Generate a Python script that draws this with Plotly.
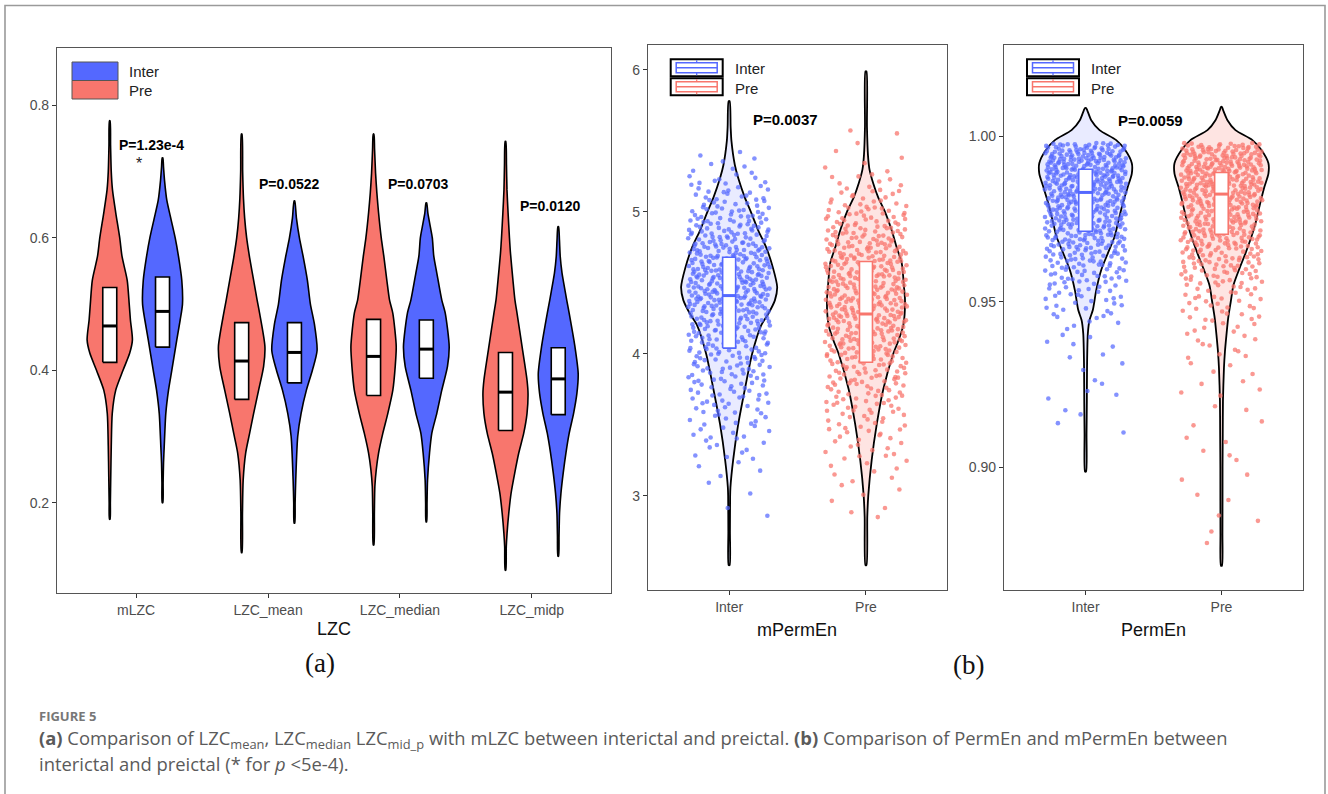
import numpy as np
import plotly.graph_objects as go

# ===================== DATA =====================
lzc_categories = ["mLZC", "LZC_mean", "LZC_median", "LZC_midp"]
perm_categories = ["Inter", "Pre"]

# Panel (a) box statistics per LZC category
lzc_pre_q1 = [0.412, 0.356, 0.362, 0.309]
lzc_pre_med = [0.467, 0.414, 0.421, 0.367]
lzc_pre_q3 = [0.525, 0.472, 0.477, 0.427]
lzc_inter_q1 = [0.435, 0.381, 0.388, 0.333]
lzc_inter_med = [0.489, 0.427, 0.432, 0.387]
lzc_inter_q3 = [0.541, 0.472, 0.476, 0.434]

# Panel (a) violin density profiles: value levels and density (half-width)
mlzc_pre_y = [0.175, 0.2, 0.24, 0.285, 0.335, 0.37, 0.4, 0.426, 0.446, 0.476, 0.5, 0.536, 0.572, 0.6, 0.638, 0.673, 0.7, 0.74, 0.777]
mlzc_pre_d = [0.3, 0.6, 1.0, 1.5, 2.5, 6, 13.3, 20, 22.7, 20.7, 19.5, 17.5, 12.3, 10, 6, 2.7, 1.5, 0.8, 0.3]
mlzc_inter_y = [0.2, 0.23, 0.26, 0.285, 0.335, 0.37, 0.4, 0.446, 0.476, 0.5, 0.536, 0.572, 0.6, 0.627, 0.657, 0.687, 0.707, 0.721]
mlzc_inter_d = [0.3, 0.6, 1.0, 1.7, 3.3, 6, 9.3, 14.3, 17.7, 20, 19.3, 16, 12.7, 8.7, 4.3, 2, 1, 0.3]
lzcmean_pre_y = [0.1245, 0.184, 0.234, 0.275, 0.305, 0.335, 0.37, 0.406, 0.436, 0.486, 0.506, 0.536, 0.57, 0.6, 0.63, 0.66, 0.7, 0.757]
lzcmean_pre_d = [0.3, 0.8, 1.5, 4, 8, 12, 17, 22, 23.3, 18, 15.5, 12, 8, 5, 3, 1.8, 1, 0.3]
lzcmean_inter_y = [0.169, 0.2, 0.234, 0.3, 0.335, 0.37, 0.4, 0.43, 0.47, 0.5, 0.536, 0.57, 0.6, 0.63, 0.656]
lzcmean_inter_d = [0.3, 0.7, 1.3, 3.3, 6.7, 12, 18, 22.7, 20, 16, 13, 9, 5, 2, 0.3]
lzcmed_pre_y = [0.136, 0.184, 0.225, 0.25, 0.275, 0.305, 0.335, 0.37, 0.406, 0.436, 0.486, 0.506, 0.536, 0.572, 0.6, 0.638, 0.668, 0.698, 0.734, 0.757]
lzcmed_pre_d = [0.3, 0.8, 1.3, 2.7, 5, 9.3, 14.3, 19.3, 21.7, 22.7, 19.3, 16, 13.3, 10.3, 7.7, 5, 3.3, 2, 1, 0.3]
lzcmed_inter_y = [0.171, 0.2, 0.234, 0.275, 0.305, 0.335, 0.37, 0.406, 0.436, 0.486, 0.506, 0.547, 0.572, 0.6, 0.617, 0.638, 0.653]
lzcmed_inter_d = [0.3, 0.7, 1.2, 3.2, 5.5, 10.5, 15.5, 21.2, 22.9, 19, 15.5, 10.5, 7.5, 6, 4, 1.5, 0.3]
lzcmid_pre_y = [0.098, 0.133, 0.154, 0.184, 0.214, 0.245, 0.275, 0.305, 0.335, 0.365, 0.385, 0.436, 0.486, 0.506, 0.536, 0.577, 0.6, 0.638, 0.673, 0.71, 0.746]
lzcmid_pre_d = [0.3, 0.8, 1.6, 3.3, 5.6, 9.3, 13.3, 18.3, 21.6, 22.6, 21.6, 16.6, 11.6, 9.5, 7.5, 5, 4, 2.6, 1.5, 1, 0.3]
lzcmid_inter_y = [0.119, 0.15, 0.184, 0.214, 0.245, 0.275, 0.305, 0.335, 0.365, 0.395, 0.436, 0.486, 0.506, 0.536, 0.547, 0.572, 0.597, 0.617]
lzcmid_inter_d = [0.3, 0.8, 1.3, 2.7, 5, 7.7, 11, 15.4, 18.7, 20, 16.7, 11, 8.5, 5, 3.8, 2, 1.2, 0.3]

# Panel (b) box statistics (Inter, Pre)
mperm_q1 = [4.04, 3.94]
mperm_med = [4.41, 4.28]
mperm_q3 = [4.68, 4.65]
permen_q1 = [0.9713, 0.9704]
permen_med = [0.983, 0.9825]
permen_q3 = [0.990, 0.989]

# Panel (b) violin density profiles
mperm_inter_y = [2.51, 2.75, 3.0, 3.06, 3.25, 3.5, 3.75, 4.0, 4.2, 4.28, 4.376, 4.47, 4.6, 4.75, 4.87, 5.0, 5.1, 5.24, 5.33, 5.5, 5.6, 5.78]
mperm_inter_d = [0.5, 0.8, 1, 1.3, 4, 9, 15.7, 23, 32, 39, 45.7, 48, 44, 37, 29, 21.7, 15.7, 9, 5.7, 2.3, 1.5, 0.5]
mperm_pre_y = [2.51, 2.85, 3.0, 3.25, 3.5, 3.75, 4.0, 4.09, 4.2, 4.376, 4.47, 4.64, 4.75, 4.87, 5.0, 5.1, 5.2, 5.3, 5.4, 5.6, 5.99]
mperm_pre_d = [0.5, 1.3, 2.3, 5.7, 10.7, 17.3, 27.3, 32.3, 37.3, 39, 38, 35.7, 30.7, 25.7, 19, 12.3, 7.3, 3.5, 2, 1, 0.5]
perm_inter_y = [0.8987, 0.91, 0.92, 0.9304, 0.9404, 0.9445, 0.9475, 0.9535, 0.9596, 0.9646, 0.9696, 0.9736, 0.9797, 0.9847, 0.9887, 0.9918, 0.9958, 0.9988, 1.0018, 1.0048, 1.0078, 1.0085]
perm_inter_d = [0.5, 1.0, 1.3, 1.5, 2.3, 4, 7.3, 10.7, 15.7, 22.3, 29, 32.3, 37.3, 42.3, 46.3, 46.3, 39.7, 30.7, 14, 5.7, 1.7, 0.5]
perm_pre_y = [0.8703, 0.88, 0.90, 0.91, 0.92, 0.93, 0.935, 0.94, 0.945, 0.95, 0.955, 0.96, 0.9646, 0.9696, 0.9736, 0.98, 0.9847, 0.9887, 0.9918, 0.9958, 0.9988, 1.0018, 1.0048, 1.0078, 1.0088]
perm_pre_d = [0.5, 1, 1.1, 1.3, 1.5, 2.5, 3.5, 5, 6.7, 9.3, 12, 18, 24, 30, 34, 39, 43, 47, 47, 40, 31, 14, 6, 1.7, 0.5]

# Observed ranges and counts of the jittered samples (Inter, Pre)
mperm_pts_min = [2.80, 2.83]
mperm_pts_max = [5.45, 5.62]
perm_pts_min = [0.909, 0.874]
perm_pts_max = [0.998, 0.998]
pts_count = [560, 560]

# P-value labels
lzc_pvals = ["P=1.23e-4", "P=0.0522", "P=0.0703", "P=0.0120"]
lzc_pval_y = [0.741, 0.682, 0.682, 0.649]
mperm_pval = "P=0.0037"
perm_pval = "P=0.0059"

# ===================== STYLE =====================
W, H = 1328, 794
RED = "#F8766D"
BLUE = "#5468FF"
FONT = "Liberation Sans, Arial, sans-serif"
SCALE_A = 1 / 132.2      # density units -> x-axis units, panel a
SCALE_B1 = 1 / 136.7
SCALE_B2 = 1 / 136.0
DODGE = 0.2
JITTER = 0.3


def px(x):
    return x / W


def py(y):
    return 1 - y / H


def violin_path(center, ys, ds, scale):
    ys = np.asarray(ys, float)
    ds = np.asarray(ds, float) * scale
    x = np.concatenate([center + ds, (center - ds)[::-1], [center + ds[0]]])
    y = np.concatenate([ys, ys[::-1], [ys[0]]])
    return x, y


def box_path(pos, q1, q3, w):
    xs, ys = [], []
    for p, a, b in zip(pos, q1, q3):
        xs += [p - w / 2, p + w / 2, p + w / 2, p - w / 2, p - w / 2, None]
        ys += [a, a, b, b, a, None]
    return xs, ys


def median_path(pos, med, w):
    xs, ys = [], []
    for p, m in zip(pos, med):
        xs += [p - w / 2, p + w / 2, None]
        ys += [m, m, None]
    return xs, ys


def vdc(n, base):
    v, den = 0.0, 1.0
    while n:
        n, r = divmod(n, base)
        den *= base
        v += r / den
    return v


def sample_points(ys, ds, lo, hi, n, start):
    g = np.linspace(lo, hi, 3000)
    dens = np.interp(g, ys, ds)
    cdf = np.cumsum(dens)
    cdf = (cdf - cdf[0]) / (cdf[-1] - cdf[0])
    u = np.array([vdc(start + i, 2) for i in range(n)])
    jx = np.array([vdc(start + i, 3) for i in range(n)]) * 2 - 1
    return np.interp(u, cdf, g), jx * JITTER


fig = go.Figure()

# ---------- panel (a) violins ----------
pre_profiles = [(mlzc_pre_y, mlzc_pre_d), (lzcmean_pre_y, lzcmean_pre_d),
                (lzcmed_pre_y, lzcmed_pre_d), (lzcmid_pre_y, lzcmid_pre_d)]
inter_profiles = [(mlzc_inter_y, mlzc_inter_d), (lzcmean_inter_y, lzcmean_inter_d),
                  (lzcmed_inter_y, lzcmed_inter_d), (lzcmid_inter_y, lzcmid_inter_d)]
for i in range(len(lzc_categories)):
    for (ys, ds), off, col in [(pre_profiles[i], -DODGE, RED), (inter_profiles[i], DODGE, BLUE)]:
        vx, vy = violin_path(i + 1 + off, ys, ds, SCALE_A)
        fig.add_trace(go.Scatter(x=vx, y=vy, mode="lines", fill="toself", fillcolor=col,
                                 line=dict(color="black", width=1.6, shape="spline", smoothing=0.7),
                                 xaxis="x", yaxis="y", hoverinfo="skip"))

BOXW_A = 0.106
for q1, med, q3, off in [(lzc_pre_q1, lzc_pre_med, lzc_pre_q3, -DODGE),
                         (lzc_inter_q1, lzc_inter_med, lzc_inter_q3, DODGE)]:
    pos = [i + 1 + off for i in range(len(q1))]
    bx, by = box_path(pos, q1, q3, BOXW_A)
    fig.add_trace(go.Scatter(x=bx, y=by, mode="lines", fill="toself", fillcolor="white",
                             line=dict(color="black", width=1.6), xaxis="x", yaxis="y", hoverinfo="skip"))
    mx, my = median_path(pos, med, BOXW_A)
    fig.add_trace(go.Scatter(x=mx, y=my, mode="lines", line=dict(color="black", width=3),
                             xaxis="x", yaxis="y", hoverinfo="skip"))

# ---------- panel (b) ----------
panels_b = [
    ("x2", "y2", [(mperm_inter_y, mperm_inter_d), (mperm_pre_y, mperm_pre_d)], SCALE_B1,
     mperm_pts_min, mperm_pts_max, mperm_q1, mperm_med, mperm_q3, 0.095),
    ("x3", "y3", [(perm_inter_y, perm_inter_d), (perm_pre_y, perm_pre_d)], SCALE_B2,
     perm_pts_min, perm_pts_max, permen_q1, permen_med, permen_q3, 0.10),
]
fills = ["rgba(84,104,255,0.13)", "rgba(248,118,109,0.20)"]
pcols = ["rgba(84,104,255,0.72)", "rgba(248,118,109,0.75)"]
lcols = [BLUE, RED]
for k, (xa, ya, profs, sc, pmin, pmax, q1, med, q3, bw) in enumerate(panels_b):
    for j in range(2):
        ys, ds = profs[j]
        vx, vy = violin_path(j + 1, ys, ds, sc)
        fig.add_trace(go.Scatter(x=vx, y=vy, mode="lines", fill="toself", fillcolor=fills[j],
                                 line=dict(color="black", width=1.8, shape="spline", smoothing=0.7),
                                 xaxis=xa, yaxis=ya, hoverinfo="skip"))
    for j in range(2):
        ys, ds = profs[j]
        sy, sx = sample_points(ys, ds, pmin[j], pmax[j], pts_count[j], 1 + 977 * j + 311 * k)
        fig.add_trace(go.Scatter(x=j + 1 + sx, y=sy, mode="markers",
                                 marker=dict(size=4.6, color=pcols[j], line=dict(width=0)),
                                 xaxis=xa, yaxis=ya, hoverinfo="skip"))
    for j in range(2):
        bx, by = box_path([j + 1], [q1[j]], [q3[j]], bw)
        fig.add_trace(go.Scatter(x=bx, y=by, mode="lines", fill="toself", fillcolor="white",
                                 line=dict(color=lcols[j], width=1.6), xaxis=xa, yaxis=ya,
                                 hoverinfo="skip"))
        mx, my = median_path([j + 1], [med[j]], bw)
        fig.add_trace(go.Scatter(x=mx, y=my, mode="lines", line=dict(color=lcols[j], width=3),
                                 xaxis=xa, yaxis=ya, hoverinfo="skip"))

# ---------- axes ----------
axis_common = dict(showline=True, mirror=True, linecolor="#555555", linewidth=1.2,
                   ticks="outside", ticklen=4, tickwidth=1, tickcolor="#333333",
                   showgrid=False, zeroline=False,
                   tickfont=dict(family=FONT, size=14, color="#4D4D4D"))
fig.update_layout(
    xaxis=dict(domain=[px(57), px(611)], range=[0.4, 4.6], anchor="y",
               tickvals=[1, 2, 3, 4], ticktext=lzc_categories, **axis_common),
    yaxis=dict(domain=[py(593), py(48)], range=[0.0635, 0.887], anchor="x",
               tickvals=[0.2, 0.4, 0.6, 0.8], ticktext=["0.2", "0.4", "0.6", "0.8"], **axis_common),
    xaxis2=dict(domain=[px(648), px(946.7)], range=[0.407, 2.59], anchor="y2",
                tickvals=[1, 2], ticktext=perm_categories, **axis_common),
    yaxis2=dict(domain=[py(590), py(45)], range=[2.335, 6.176], anchor="x2",
                tickvals=[3, 4, 5, 6], ticktext=["3", "4", "5", "6"], **axis_common),
    xaxis3=dict(domain=[px(1004), px(1303)], range=[0.4, 2.6], anchor="y3",
                tickvals=[1, 2], ticktext=perm_categories, **axis_common),
    yaxis3=dict(domain=[py(590), py(45)], range=[0.863, 1.0275], anchor="x3",
                tickvals=[0.90, 0.95, 1.00], ticktext=["0.90", "0.95", "1.00"], **axis_common),
)

# ---------- shapes: frame & legends ----------
shapes = [dict(type="rect", xref="paper", yref="paper", x0=px(5), x1=px(1325), y0=py(810), y1=py(5.5),
               line=dict(color="#9A9A9A", width=1.6), fillcolor="rgba(0,0,0,0)", layer="below")]
# panel a legend swatches
shapes.append(dict(type="rect", xref="paper", yref="paper", x0=px(72), x1=px(118), y0=py(80.5), y1=py(62),
                   fillcolor=BLUE, line=dict(color="#555555", width=1)))
shapes.append(dict(type="rect", xref="paper", yref="paper", x0=px(72), x1=px(118), y0=py(99), y1=py(80.5),
                   fillcolor=RED, line=dict(color="#555555", width=1)))
# panel b legend keys
for x0 in [670.7, 1027.0]:
    for (ytop, col) in [(59.3, BLUE), (78.3, RED)]:
        shapes.append(dict(type="rect", xref="paper", yref="paper", x0=px(x0), x1=px(x0 + 52),
                           y0=py(ytop + 17), y1=py(ytop), fillcolor="white",
                           line=dict(color="black", width=2)))
        shapes.append(dict(type="rect", xref="paper", yref="paper", x0=px(x0 + 5.5), x1=px(x0 + 46.5),
                           y0=py(ytop + 13.5), y1=py(ytop + 3.5), fillcolor="white",
                           line=dict(color=col, width=1.5)))
        shapes.append(dict(type="line", xref="paper", yref="paper", x0=px(x0 + 5.5), x1=px(x0 + 46.5),
                           y0=py(ytop + 8.5), y1=py(ytop + 8.5), line=dict(color=col, width=1.5)))
        for (a, b) in [(ytop + 1, ytop + 3.5), (ytop + 13.5, ytop + 16)]:
            shapes.append(dict(type="line", xref="paper", yref="paper", x0=px(x0 + 26), x1=px(x0 + 26),
                               y0=py(a), y1=py(b), line=dict(color=col, width=1.2)))
fig.update_layout(shapes=shapes)

# ---------- annotations ----------
ann = []


def text(x, y, s, size=14, color="#222222", family=FONT, xanchor="center", xref="paper", yref="paper",
         weight="normal"):
    ann.append(dict(x=x, y=y, xref=xref, yref=yref, text=s, showarrow=False, xanchor=xanchor,
                    yanchor="middle", font=dict(size=size, color=color, family=family, weight=weight)))


# legends text
text(px(127), py(71), "Inter", 15, xanchor="left")
text(px(127), py(90), "Pre", 15, xanchor="left")
for xt in [733, 1089]:
    text(px(xt), py(68), "Inter", 15, xanchor="left")
    text(px(xt), py(88), "Pre", 15, xanchor="left")

# p values
lzc_pval_x = [1.116, 2.16, 3.14, 4.14]
for xv, yv, s in zip(lzc_pval_x, lzc_pval_y, lzc_pvals):
    text(xv, yv, s, 14, "black", xref="x", yref="y", weight="bold")
text(1.02, 0.712, "*", 16, "#222222", xref="x", yref="y")
text(1.41, 5.648, mperm_pval, 15, "black", xref="x2", yref="y2", weight="bold")
text(1.476, 1.0046, perm_pval, 15, "black", xref="x3", yref="y3", weight="bold")

# axis titles
text(px(334), py(629), "LZC", 18, "#111111")
text(px(797), py(630), "mPermEn", 18, "#111111")
text(px(1153.5), py(630), "PermEn", 18, "#111111")
text(px(320), py(663), "(a)", 27, "#111111", family="Liberation Serif, Times New Roman, serif")
text(px(968), py(665), "(b)", 27, "#111111", family="Liberation Serif, Times New Roman, serif")

# caption
CAP = "Open Sans, Noto Sans, sans-serif"
text(px(37), py(715.5), "FIGURE 5", 13, "#777777", family=CAP, xanchor="left", weight="bold")
text(px(37), py(739),
     "<b>(a)</b> Comparison of LZC<sub>mean</sub>, LZC<sub>median</sub> LZC<sub>mid_p</sub> with mLZC between "
     "interictal and preictal. <b>(b)</b> Comparison of PermEn and mPermEn between",
     18.4, "#5A5A5A", family=CAP, xanchor="left")
text(px(37), py(763), "interictal and preictal (* for <i>p</i> &lt;5e-4).", 18.4, "#5A5A5A",
     family=CAP, xanchor="left")
fig.update_layout(annotations=ann)

fig.update_layout(width=W, height=H, margin=dict(l=0, r=0, t=0, b=0), showlegend=False,
                  plot_bgcolor="white", paper_bgcolor="white")
fig.write_html("out.html", config={"displayModeBar": False},
               post_script="document.body.style.margin='0';")
